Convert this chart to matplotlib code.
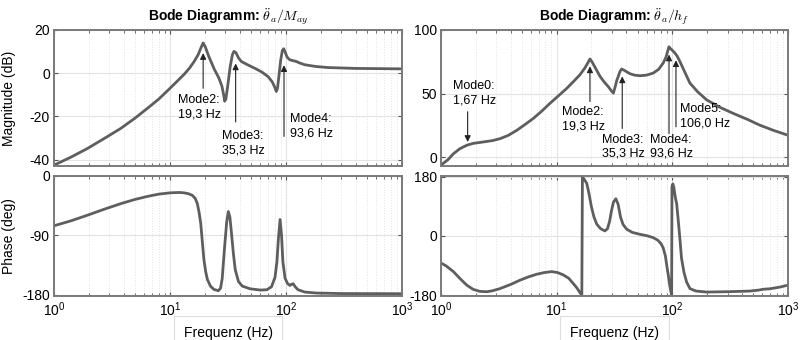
import matplotlib.pyplot as plt
from matplotlib.ticker import LogLocator, NullFormatter

# font like matlab (helvetica)
plt.rcParams['font.family'] = ['Liberation Sans', 'DejaVu Sans']
plt.rcParams['axes.unicode_minus'] = False

# data: frequency (Hz) and value
# left column: theta_a'' / M_ay
f_mag_l = [1, 1.4, 1.94, 2.7, 3.76, 5, 6.38, 8, 9.48, 11.3, 13.2, 14.7, 16.1, 17.5, 18.5,
           19.3, 20.2, 21.5, 24, 26.4, 28, 29, 29.6, 30.3, 31.6, 33, 34.5, 35.6, 37, 39,
           41.2, 47, 53.7, 62, 70, 76, 80, 82.5, 84.5, 87, 90, 93, 95.5, 98, 102, 107.6,
           115, 122.8, 130, 145, 180, 230, 400, 1000]
mag_l = [-42.6, -38.9, -34.9, -30.3, -25.6, -20.8, -16.3, -12.0, -8.2, -4.2, -0.6, 2.3, 5.3,
         8.6, 11.8, 14, 12, 8, 2, -2.3, -6, -10, -13, -12, -5, 3, 8.5, 10.1, 9.5, 7,
         5.4, 3.8, 2.3, 0.5, -1.6, -4, -6.5, -8.5, -7, -1, 6, 10.5, 11.3, 10, 7.5, 6.2,
         5.8, 5.4, 4.8, 3.9, 3.1, 2.6, 2.2, 2.0]

f_ph_l = [1, 1.4, 1.94, 2.7, 3.76, 5, 6.38, 8, 10.1, 12, 13.2, 14.5, 15.6, 16.5, 17.2,
          17.8, 18.4, 19, 19.6, 20.3, 21, 22.3, 23.9, 26.1, 27.3, 28.2, 28.8, 29.8, 30.8,
          31.8, 32.8, 33.8, 35.2, 36.5, 38.9, 42, 48.9, 60, 68.4, 75, 80.4, 83.5, 86,
          88.9, 91.5, 94, 98.1, 103, 108, 112, 115.5, 120, 127, 145, 183, 300, 1000]
ph_l = [-75.5, -68, -59.5, -50.5, -42, -35.5, -31, -27.5, -25.5, -25, -25.5, -27, -29.5,
        -34, -42, -55, -72, -100, -127, -145, -157, -167, -172, -174, -170, -155, -133,
        -100, -70, -54, -62, -85, -118, -142, -160, -167, -171, -173, -172.5, -168,
        -153.5, -130, -95, -66, -90, -130, -155, -163, -166, -164, -163.5, -168,
        -172.5, -176, -177.5, -178.3, -178.5]

# right column: theta_a'' / h_f
f_mag_r = [1, 1.15, 1.28, 1.45, 1.67, 1.9, 2.32, 2.8, 3.24, 3.8, 4.51, 5.3, 6.28, 7.4,
           8.75, 10.3, 12.2, 14, 15.9, 17.5, 18.7, 19.4, 20.2, 21.8, 23.7, 25.8, 27.9,
           29.5, 30.9, 32, 33, 34.1, 35.3, 36.5, 38.5, 43, 47, 52.5, 60, 68.4, 76, 83.4,
           88, 91, 93.5, 96, 100, 105, 110, 116, 125, 142, 165, 198, 260, 336, 450, 571,
           750, 1000]
mag_r = [-6.3, -2, 2.6, 6.5, 9.3, 10.8, 11.9, 13, 14.5, 17, 21, 25.5, 30.4, 36,
         42.3, 48, 54, 59.5, 64.8, 70, 74.5, 77.2, 75, 69.5, 63.5, 59, 55.5,
         52.5, 50.3, 55, 60, 63.5, 67.5, 69.3, 68.2, 65.6, 64.5, 64, 64.5, 66.1, 69, 74,
         78.5, 83, 86.8, 85.5, 84, 82, 79.5, 75.4, 69, 58.2, 51.5, 45, 39, 34.4, 29.5, 25.1,
         21, 17.2]

f_ph_r = [1, 1.1, 1.28, 1.45, 1.67, 1.9, 2.17, 2.5, 2.8, 3.24, 4, 4.82, 5.7, 6.71, 7.8,
          9.05, 10.2, 11.4, 12.7, 13.9, 15, 15.9, 16.5, 16.7, 17.3, 18.2, 19, 20, 21,
          22.2, 24, 26.1, 27.5, 28.7, 29.8, 31, 32.5, 34, 35.7, 37.5, 40.3, 45, 52.5, 60,
          68.4, 75, 80, 83.4, 87, 90, 92.2, 95, 98.6, 99.3, 101, 103, 106, 109, 113, 117,
          120, 126, 133, 142, 160, 198, 300, 469, 560, 611, 700, 850, 1000]
ph_r = [-82, -90, -108, -128, -149, -162, -168, -169, -166, -159.5, -147, -134, -124,
        -116, -111, -108, -111, -118, -128, -144, -158, -172, -178, 178, 172, 159.5, 130,
        87.5, 58, 36, 22, 15.4, 22, 45, 77, 103, 113, 96, 56.6, 35, 20.6, 11, 5, 1,
        -5, -13, -24, -36, -60, -95, -118, -150, -180, 150, 158, 148, 118, 98, 40, -20,
        -67, -110, -140, -159.5, -167, -170, -169, -167, -164, -161.5, -160, -155, -149]

titles = [r'Bode Diagramm: $\boldsymbol{\ddot{\theta}_a/M_{ay}}$',
          r'Bode Diagramm: $\boldsymbol{\ddot{\theta}_a/h_f}$']

line_col = '#5e5e5e'
spine_col = '#7a7a7a'

fig = plt.figure(figsize=(8.04, 3.40), dpi=100)
ax_ml = fig.add_axes([0.0672, 0.5118, 0.4328, 0.4])
ax_pl = fig.add_axes([0.0672, 0.1294, 0.4328, 0.353])
ax_mr = fig.add_axes([0.5485, 0.5118, 0.4316, 0.4])
ax_pr = fig.add_axes([0.5485, 0.1294, 0.4316, 0.353])

ax_ml.plot(f_mag_l, mag_l, color=line_col, lw=2)
ax_pl.plot(f_ph_l, ph_l, color=line_col, lw=2)
ax_mr.plot(f_mag_r, mag_r, color=line_col, lw=2)
ax_pr.plot(f_ph_r, ph_r, color=line_col, lw=2)

for ax in [ax_ml, ax_pl, ax_mr, ax_pr]:
    ax.set_xscale('log')
    ax.set_xlim(1, 1000)
    ax.xaxis.set_major_locator(LogLocator(base=10, numticks=10))
    ax.xaxis.set_minor_locator(LogLocator(base=10, subs=range(2, 10), numticks=20))
    ax.xaxis.set_minor_formatter(NullFormatter())
    ax.grid(True, which='major', color='#e3e3e3', lw=0.8)
    ax.grid(True, which='minor', axis='x', color='#e3e3e3', lw=0.7, ls=':')
    ax.set_axisbelow(True)
    ax.tick_params(which='both', direction='in', top=True, right=True,
                   color='#555555', labelsize=10, pad=3)
    ax.tick_params(which='major', length=3)
    ax.tick_params(which='minor', length=2)
    for s in ax.spines.values():
        s.set_color(spine_col)
        s.set_linewidth(1.4)

ax_ml.set_ylim(-43, 20)
ax_ml.set_yticks([-40, -20, 0, 20])
ax_mr.set_ylim(-7, 100)
ax_mr.set_yticks([0, 50, 100])
ax_pl.set_ylim(-182, 0)
ax_pl.set_yticks([-180, -90, 0])
ax_pr.set_ylim(-182, 182)
ax_pr.set_yticks([-180, 0, 180])

for ax in [ax_ml, ax_mr]:
    ax.tick_params(labelbottom=False)

ax_ml.set_ylabel('Magnitude (dB)', fontsize=10)
ax_pl.set_ylabel('Phase (deg)', fontsize=10)
ax_ml.yaxis.set_label_coords(-0.11, 0.5)
ax_pl.yaxis.set_label_coords(-0.11, 0.5)

for ax, t in zip([ax_ml, ax_mr], titles):
    ax.set_title(t, fontsize=10, fontweight='bold', pad=7, math_fontfamily='cm')

for ax in [ax_pl, ax_pr]:
    ax.set_xlabel('Frequenz (Hz)', fontsize=10, labelpad=5,
                  bbox=dict(boxstyle='square,pad=0.7', fc='white', ec='#dcdcdc', lw=0.8))


def mode(ax, label, f_arrow, y_tail, y_tip, f_text, y_text):
    ax.annotate('', xy=(f_arrow, y_tip), xytext=(f_arrow, y_tail),
                arrowprops=dict(arrowstyle='-|>', color='#222222', lw=0.8,
                                mutation_scale=9, shrinkA=0, shrinkB=0))
    ax.text(f_text, y_text, label, ha='left', va='top', fontsize=9, linespacing=1.25)


# mode markers, left magnitude
mode(ax_ml, 'Mode2:\n19,3 Hz', 19.3, -7, 9.3, 11.7, -9.8)
mode(ax_ml, 'Mode3:\n35,3 Hz', 36.8, -22.6, 4.5, 28.3, -26.5)
mode(ax_ml, 'Mode4:\n93,6 Hz', 96.1, -29.3, 3.7, 108, -18.6)

# mode markers, right magnitude
mode(ax_mr, 'Mode0:\n1,67 Hz', 1.70, 35.7, 11.9, 1.28, 60.8)
mode(ax_mr, 'Mode2:\n19,3 Hz', 19.4, 43.7, 71.4, 11.2, 40.2)
mode(ax_mr, 'Mode3:\n35,3 Hz', 36.9, 22.5, 63.5, 24.5, 18.5)
mode(ax_mr, 'Mode4:\n93,6 Hz', 93.6, 18.5, 80.7, 64, 18.5)
mode(ax_mr, 'Mode5:\n106,0 Hz', 107.5, 23.8, 76.2, 116, 42.3)

plt.savefig('out.png', dpi=100)
